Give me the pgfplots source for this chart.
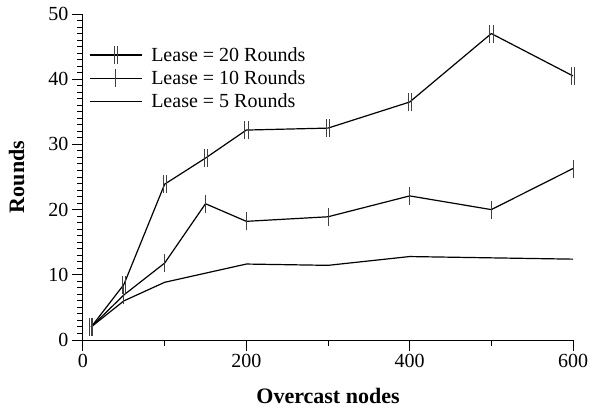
\documentclass[border=0pt]{standalone}
\usepackage{fontspec}
\setmainfont{Liberation Serif}
\usepackage{pgfplots}
\pgfplotsset{compat=1.18}

\pgfdeclareplotmark{dbar}{%
  \pgfpathmoveto{\pgfqpoint{-1.6pt}{-\pgfplotmarksize}}%
  \pgfpathlineto{\pgfqpoint{-1.6pt}{\pgfplotmarksize}}%
  \pgfpathmoveto{\pgfqpoint{1.6pt}{-\pgfplotmarksize}}%
  \pgfpathlineto{\pgfqpoint{1.6pt}{\pgfplotmarksize}}%
  \pgfusepathqstroke}

\begin{document}
\begin{tikzpicture}
\begin{axis}[
    scale only axis,
    width=490pt, height=326pt,
    xmin=0, xmax=600, ymin=0, ymax=50,
    axis lines*=left,
    axis line style={line width=1pt},
    xtick={0,200,400,600},
    minor xtick={100,300,500},
    ytick={0,10,20,30,40,50},
    extra y ticks={1,2,3,4,5,6,7,8,9,11,12,13,14,15,16,17,18,19,21,22,23,24,25,26,27,28,29,31,32,33,34,35,36,37,38,39,41,42,43,44,45,46,47,48,49},
    extra y tick labels={},
    extra y tick style={major tick length=6pt},
    tick align=outside,
    major tick length=11pt,
    minor tick length=6pt,
    every tick/.style={black, line width=1pt},
    /pgf/number format/assume math mode=true,
    ticklabel style={font=\fontsize{20}{24}\selectfont},
    xlabel={\textbf{Overcast nodes}},
    ylabel={\textbf{Rounds}},
    label style={font=\fontsize{22}{26}\selectfont},
    ylabel style={at={(rel axis cs:0,0.5)}, anchor=south, yshift=55pt},
    xlabel style={at={(rel axis cs:0.5,0)}, anchor=base, yshift=-63pt},
    legend style={draw=none, fill=none, at={(0.012,0.911)}, anchor=north west,
                  font=\fontsize{20}{24}\selectfont,
                  inner sep=0pt,
                  nodes={inner xsep=3pt, inner ysep=4pt},
                  /tikz/every odd column/.append style={column sep=6pt}},
    legend cell align=left,
    legend image code/.code={%
      \draw[mark repeat=2,mark phase=2,#1]
        plot coordinates {(0pt,0pt) (26pt,0pt) (52pt,0pt)};},
    after end axis/.code={%
      \path (rel axis cs:0,0) ++(-83pt,-67pt) coordinate (bbA);
      \path (rel axis cs:1,1) ++(21pt,14pt) coordinate (bbB);
      \path (bbA) (bbB);},
  ]
\addplot[black, line width=1.2pt, mark=dbar, mark size=9pt,
         mark options={line width=0.8pt, black!75, solid}]
  coordinates {(10,2.0) (50,8.5) (100,23.9) (150,27.9) (200,32.2) (300,32.5) (400,36.5) (500,47.0) (600,40.5)};
\addlegendentry{Lease = 20 Rounds}
\addplot[black, line width=1.2pt, mark=|, mark size=9pt,
         mark options={line width=0.8pt, black!75, solid}]
  coordinates {(10,2.0) (50,6.9) (100,11.8) (150,20.9) (200,18.2) (300,18.9) (400,22.1) (500,20.0) (600,26.3)};
\addlegendentry{Lease = 10 Rounds}
\addplot[black, line width=1.2pt, mark=none]
  coordinates {(10,2.0) (50,6.0) (100,8.85) (150,10.25) (200,11.65) (300,11.45) (400,12.8) (500,12.6) (600,12.4)};
\addlegendentry{Lease = 5 Rounds}
\end{axis}
\end{tikzpicture}
\end{document}
